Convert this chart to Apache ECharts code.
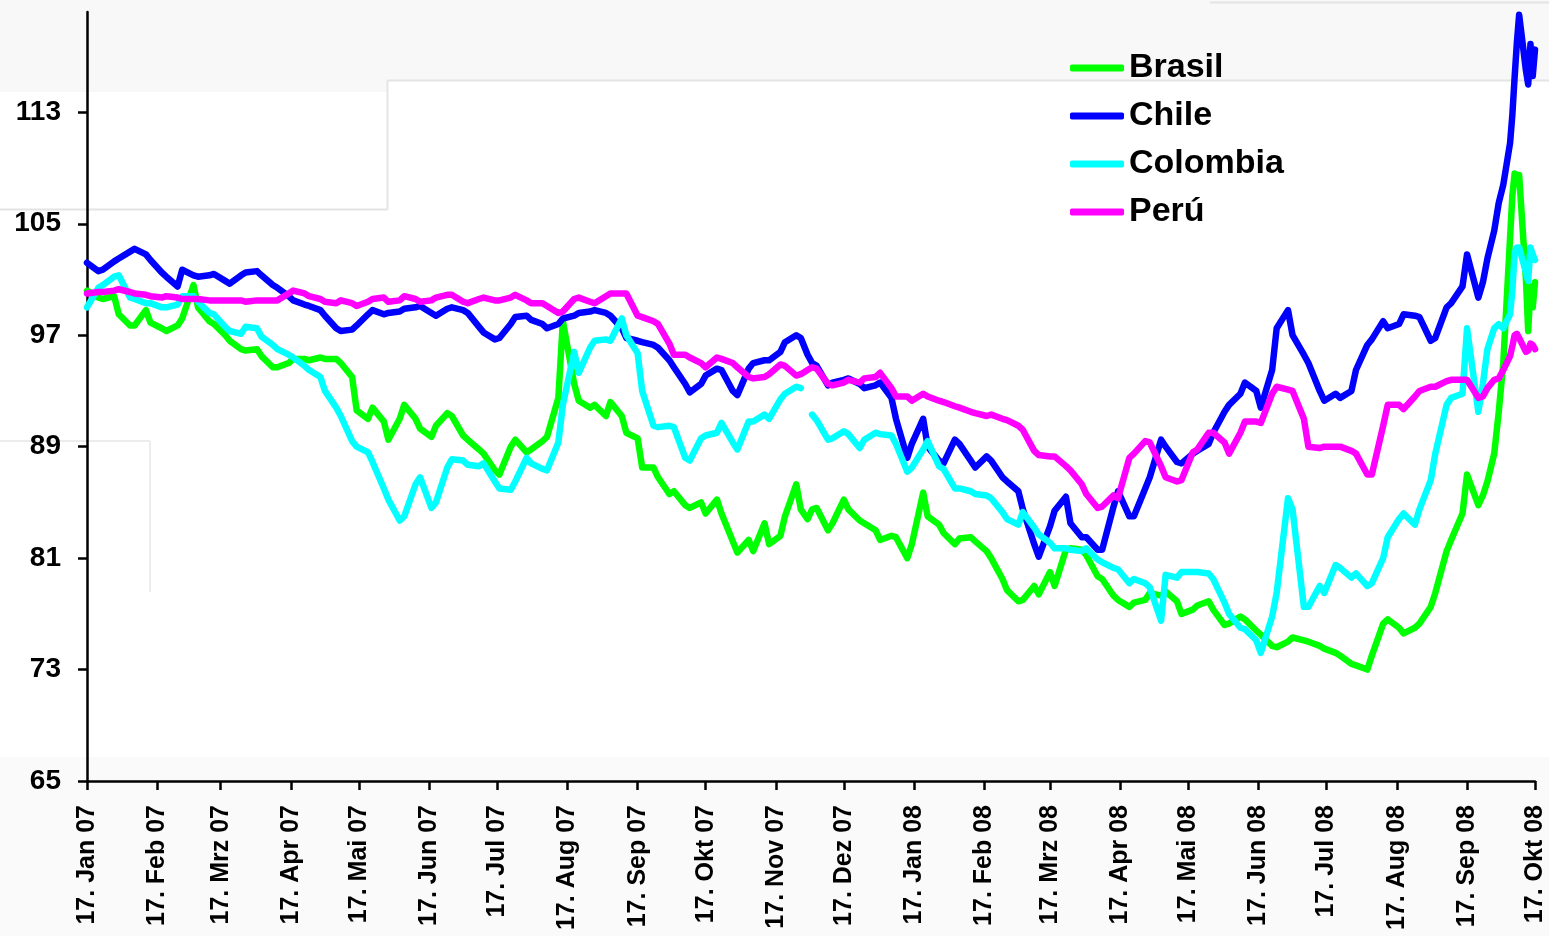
<!DOCTYPE html>
<html>
<head>
<meta charset="utf-8">
<script src="https://cdn.jsdelivr.net/npm/echarts@6/dist/echarts.min.js"></script>
<style>
  html, body { margin: 0; padding: 0; background: #ffffff; }
  #chart { width: 1549px; height: 936px; }
</style>
</head>
<body>
<div id="chart"></div>
<script>
// ---------- DATA ----------
const dates = [
  '2007-01-17','2007-01-22','2007-01-24','2007-01-29','2007-01-31','2007-02-05','2007-02-07','2007-02-12','2007-02-14','2007-02-19',
  '2007-02-21','2007-02-26','2007-02-28','2007-03-05','2007-03-07','2007-03-12','2007-03-14','2007-03-19','2007-03-21','2007-03-26',
  '2007-03-28','2007-04-02','2007-04-04','2007-04-09','2007-04-11','2007-04-16','2007-04-18','2007-04-23','2007-04-25','2007-04-30',
  '2007-05-02','2007-05-07','2007-05-09','2007-05-14','2007-05-16','2007-05-21','2007-05-23','2007-05-28','2007-05-30','2007-06-04',
  '2007-06-06','2007-06-11','2007-06-13','2007-06-18','2007-06-20','2007-06-25','2007-06-27','2007-07-02','2007-07-04','2007-07-09',
  '2007-07-11','2007-07-16','2007-07-18','2007-07-23','2007-07-25','2007-07-30','2007-08-01','2007-08-06','2007-08-08','2007-08-13',
  '2007-08-15','2007-08-20','2007-08-22','2007-08-27','2007-08-29','2007-09-03','2007-09-05','2007-09-10','2007-09-12','2007-09-17',
  '2007-09-19','2007-09-24','2007-09-26','2007-10-01','2007-10-03','2007-10-08','2007-10-10','2007-10-15','2007-10-17','2007-10-22',
  '2007-10-24','2007-10-29','2007-10-31','2007-11-05','2007-11-07','2007-11-12','2007-11-14','2007-11-19','2007-11-21','2007-11-26',
  '2007-11-28','2007-12-01','2007-12-03','2007-12-05','2007-12-10','2007-12-12','2007-12-17','2007-12-19','2007-12-24','2007-12-26','2007-12-31',
  '2008-01-02','2008-01-07','2008-01-09','2008-01-14','2008-01-16','2008-01-21','2008-01-23','2008-01-28','2008-01-30','2008-02-04',
  '2008-02-06','2008-02-11','2008-02-13','2008-02-18','2008-02-20','2008-02-25','2008-02-27','2008-03-03','2008-03-05','2008-03-10',
  '2008-03-12','2008-03-17','2008-03-19','2008-03-24','2008-03-26','2008-03-31','2008-04-02','2008-04-07','2008-04-09','2008-04-14',
  '2008-04-16','2008-04-21','2008-04-23','2008-04-28','2008-04-30','2008-05-05','2008-05-07','2008-05-12','2008-05-14','2008-05-19',
  '2008-05-21','2008-05-26','2008-05-28','2008-06-02','2008-06-04','2008-06-09','2008-06-11','2008-06-16','2008-06-18','2008-06-23',
  '2008-06-25','2008-06-30','2008-07-02','2008-07-07','2008-07-09','2008-07-14','2008-07-16','2008-07-21','2008-07-23','2008-07-28',
  '2008-07-30','2008-08-04','2008-08-06','2008-08-11','2008-08-13','2008-08-18','2008-08-20','2008-08-25','2008-08-27','2008-09-01',
  '2008-09-03','2008-09-08','2008-09-10','2008-09-15','2008-09-17','2008-09-22','2008-09-24',
  '2008-09-26','2008-09-29','2008-10-01','2008-10-03','2008-10-06','2008-10-07','2008-10-08','2008-10-09','2008-10-10',
  '2008-10-13','2008-10-14','2008-10-15','2008-10-16','2008-10-17'
];

const brasil = [
  100.2, 99.7, 99.6, 99.8, 98.5, 97.7, 97.7, 98.8, 97.9, 97.5,
  97.3, 97.7, 98.2, 100.6, 99.0, 98.0, 97.8, 97.0, 96.6, 96.0,
  95.9, 96.0, 95.5, 94.7, 94.7, 95.0, 95.3, 95.3, 95.2, 95.4,
  95.3, 95.3, 95.0, 94.0, 91.6, 91.0, 91.8, 90.8, 89.5, 91.0,
  92.0, 91.0, 90.3, 89.7, 90.5, 91.4, 91.2, 89.8, 89.5, 88.8,
  88.5, 87.3, 87.0, 89.0, 89.5, 88.6, 88.8, 89.4, 89.7, 92.5,
  98.0, 93.5, 92.3, 91.8, 92.0, 91.2, 92.2, 91.2, 90.0, 89.6,
  87.5, 87.5, 86.8, 85.6, 85.8, 84.8, 84.6, 85.0, 84.2, 85.2,
  84.2, 82.2, 81.4, 82.3, 81.5, 83.5, 82.0, 82.6, 84.0, 86.3,
  84.5, 83.8, 84.5, 84.6, 83.0, 83.5, 85.2, 84.5, 83.7, 83.5, 83.0,
  82.3, 82.6, 82.5, 81.0, 82.0, 85.7, 84.0, 83.4, 82.8, 82.0,
  82.4, 82.5, 82.2, 81.5, 81.0, 79.5, 78.7, 77.9, 78.0, 79.0,
  78.4, 80.0, 79.0, 81.6, 81.7, 81.6, 81.2, 79.7, 79.5, 78.3,
  78.0, 77.5, 77.8, 78.0, 78.5, 78.3, 78.6, 77.9, 77.0, 77.3,
  77.6, 77.9, 77.3, 76.2, 76.3, 76.8, 76.6, 75.8, 75.5, 74.7,
  74.6, 75.0, 75.3, 75.1, 75.0, 74.7, 74.5, 74.2, 74.0, 73.4,
  73.3, 73.0, 74.0, 76.3, 76.6, 76.0, 75.6, 76.0, 76.3, 77.5,
  78.5, 81.5, 82.3, 84.2, 87.0, 84.8, 85.5,
  86.5, 88.5, 91.5, 95.0, 104.0, 107.0, 108.6, 108.5, 108.5,
  101.0, 97.3, 100.5, 99.0, 100.8
];

const chile = [
  102.2, 101.6, 101.7, 102.3, 102.5, 103.0, 103.2, 102.8, 102.4, 101.5,
  101.2, 100.5, 101.7, 101.3, 101.2, 101.3, 101.4, 100.9, 100.7, 101.3,
  101.5, 101.6, 101.3, 100.6, 100.4, 99.8, 99.5, 99.2, 99.1, 98.8,
  98.4, 97.5, 97.3, 97.4, 97.7, 98.5, 98.8, 98.5, 98.6, 98.7,
  98.9, 99.0, 99.1, 98.6, 98.4, 98.9, 99.0, 98.8, 98.6, 97.6,
  97.2, 96.7, 96.8, 97.8, 98.3, 98.4, 98.1, 97.8, 97.5, 97.8,
  98.2, 98.4, 98.6, 98.7, 98.8, 98.6, 98.4, 97.5, 96.8, 96.6,
  96.5, 96.3, 96.1, 95.2, 94.7, 93.5, 92.9, 93.5, 94.1, 94.6,
  94.5, 93.0, 92.7, 94.6, 95.0, 95.2, 95.2, 95.8, 96.5, 97.0,
  96.8, 95.6, 95.0, 94.8, 93.4, 93.6, 93.8, 93.9, 93.5, 93.2, 93.4,
  93.6, 92.5, 91.0, 88.2, 89.2, 91.0, 89.0, 88.0, 87.8, 89.5,
  89.2, 88.0, 87.5, 88.3, 88.0, 86.8, 86.5, 85.8, 84.5, 82.0,
  81.1, 83.3, 84.4, 85.4, 83.5, 82.5, 82.5, 81.6, 81.6, 84.7,
  85.8, 84.0, 84.0, 86.0, 86.8, 89.5, 89.0, 87.9, 87.8, 88.5,
  88.7, 89.2, 90.0, 91.5, 92.0, 92.8, 93.6, 93.0, 91.8, 94.5,
  97.5, 98.8, 97.0, 95.6, 95.0, 93.0, 92.3, 92.8, 92.5, 93.0,
  94.5, 96.3, 96.7, 98.0, 97.5, 97.8, 98.5, 98.4, 98.3, 96.6,
  96.8, 99.0, 99.3, 100.5, 102.8, 99.7, 100.8,
  102.5, 104.5, 106.5, 107.8, 110.8, 112.8, 115.5, 118.0, 120.0,
  116.0, 115.0, 117.9, 115.6, 117.5
];

const colombia = [
  99.0, 100.4, 100.6, 101.2, 101.3, 99.7, 99.6, 99.3, 99.3, 99.0,
  99.0, 99.2, 99.8, 99.8, 99.4, 98.6, 98.5, 97.6, 97.3, 97.1,
  97.6, 97.5, 96.9, 96.3, 96.0, 95.6, 95.4, 94.8, 94.5, 94.0,
  93.0, 91.8, 91.2, 89.4, 89.0, 88.6, 87.9, 86.0, 85.2, 83.7,
  84.0, 86.3, 86.8, 84.6, 85.0, 87.5, 88.1, 88.0, 87.7, 87.6,
  87.8, 86.5, 86.0, 85.9, 86.5, 88.2, 87.8, 87.4, 87.3, 89.3,
  92.0, 95.8, 94.3, 96.1, 96.6, 96.7, 96.6, 98.2, 97.0, 95.7,
  93.0, 90.5, 90.4, 90.5, 90.4, 88.2, 88.0, 89.6, 89.8, 90.0,
  90.7, 89.3, 88.8, 90.8, 90.8, 91.3, 91.0, 92.4, 92.8, 93.3,
  93.2, null, 91.3, 90.9, 89.5, 89.6, 90.1, 89.9, 88.9, 89.5, 90.0,
  89.9, 89.8, 89.2, 87.2, 87.5, 88.8, 89.4, 87.6, 87.4, 86.0,
  86.0, 85.8, 85.6, 85.5, 85.3, 84.3, 83.8, 83.4, 84.3, 83.2,
  82.7, 82.1, 81.7, 81.7, 81.6, 81.5, 81.7, 80.9, 80.7, 80.3,
  80.2, 79.2, 79.5, 79.2, 78.9, 76.5, 79.8, 79.6, 80.0, 80.0,
  80.0, 79.9, 79.5, 77.8, 77.0, 76.0, 75.9, 75.1, 74.2, 76.8,
  78.5, 85.3, 84.5, 77.5, 77.5, 79.0, 78.5, 80.5, 80.3, 79.6,
  79.9, 79.0, 79.2, 81.0, 82.5, 83.8, 84.2, 83.4, 84.5, 86.6,
  88.5, 92.0, 92.5, 92.8, 97.5, 91.5, 93.5,
  96.0, 97.5, 97.8, 97.5, 98.5, 100.2, 102.9, 103.3, 103.3,
  101.5, 100.9, 103.3, 102.8, 102.4
];

const peru = [
  100.0, 100.1, 100.1, 100.2, 100.3, 100.1, 100.0, 99.9, 99.8, 99.7,
  99.8, 99.7, 99.6, 99.6, 99.6, 99.5, 99.5, 99.5, 99.5, 99.5,
  99.4, 99.5, 99.5, 99.5, 99.5, 100.0, 100.2, 100.0, 99.8, 99.6,
  99.4, 99.3, 99.5, 99.3, 99.1, 99.4, 99.6, 99.7, 99.4, 99.5,
  99.8, 99.6, 99.4, 99.5, 99.7, 99.9, 99.9, 99.4, 99.3, 99.6,
  99.7, 99.5, 99.5, 99.7, 99.9, 99.5, 99.3, 99.3, 99.1, 98.6,
  98.7, 99.6, 99.7, 99.4, 99.3, 99.8, 100.0, 100.0, 100.0, 98.4,
  98.3, 98.0, 97.8, 96.4, 95.6, 95.6, 95.4, 95.0, 94.7, 95.4,
  95.3, 95.0, 94.7, 94.0, 93.9, 94.0, 94.2, 94.9, 94.8, 94.1,
  94.2, 94.5, 94.7, 94.6, 93.5, 93.4, 93.6, 93.8, 93.6, 93.9, 94.0,
  94.3, 93.2, 92.6, 92.6, 92.3, 92.8, 92.6, 92.3, 92.2, 91.9,
  91.8, 91.5, 91.4, 91.2, 91.3, 91.0, 90.9, 90.5, 90.2, 88.7,
  88.4, 88.3, 88.3, 87.6, 87.3, 86.3, 85.6, 84.6, 84.7, 85.5,
  85.3, 88.2, 88.5, 89.4, 89.3, 87.6, 86.8, 86.5, 86.6, 88.6,
  88.8, 90.0, 90.0, 89.3, 88.5, 90.0, 90.8, 90.8, 90.7, 92.8,
  93.3, 93.1, 93.0, 91.0, 89.0, 88.9, 89.0, 89.0, 89.0, 88.7,
  88.5, 87.0, 87.0, 90.5, 92.0, 92.0, 91.7, 92.6, 93.0, 93.3,
  93.3, 93.7, 93.8, 93.8, 93.8, 92.5, 92.6,
  93.2, 93.8, 93.9, 94.5, 95.5, 96.2, 97.0, 97.1, 96.8,
  95.8, 95.9, 96.4, 96.3, 96.0
];

const seriesNames = ['Brasil', 'Chile', 'Colombia', 'Perú'];
const seriesColors = ['#00ff00', '#0000ff', '#00ffff', '#ff00ff'];

const xTickDates = [
  '2007-01-17','2007-02-17','2007-03-17','2007-04-17','2007-05-17','2007-06-17','2007-07-17','2007-08-17',
  '2007-09-17','2007-10-17','2007-11-17','2007-12-17','2008-01-17','2008-02-17','2008-03-17','2008-04-17',
  '2008-05-17','2008-06-17','2008-07-17','2008-08-17','2008-09-17','2008-10-17'
];
const xTickLabels = [
  '17. Jan 07','17. Feb 07','17. Mrz 07','17. Apr 07','17. Mai 07','17. Jun 07','17. Jul 07','17. Aug 07',
  '17. Sep 07','17. Okt 07','17. Nov 07','17. Dez 07','17. Jan 08','17. Feb 08','17. Mrz 08','17. Apr 08',
  '17. Mai 08','17. Jun 08','17. Jul 08','17. Aug 08','17. Sep 08','17. Okt 08'
];
const yTicks = [65, 73, 81, 89, 97, 105, 113];

// ---------- BUILD ----------
function ts(s) {
  const p = s.split('-').map(Number);
  return Date.UTC(p[0], p[1] - 1, p[2]);
}
const dateTs = dates.map(ts);
const xTickTs = xTickDates.map(ts);
const allValues = [brasil, chile, colombia, peru];

function pairs(vals) {
  return vals.map((v, i) => [dateTs[i], v == null ? null : v]);
}

const FONT = '"Liberation Sans", Arial, sans-serif';

const chart = echarts.init(document.getElementById('chart'), null, { renderer: 'canvas' });

const bgGraphics = [
  { type: 'rect', z: -10, shape: { x: 0, y: 0, width: 1549, height: 80 }, style: { fill: '#f8f8f8' }, silent: true },
  { type: 'rect', z: -10, shape: { x: 0, y: 80, width: 387, height: 12 }, style: { fill: '#f8f8f8' }, silent: true },
  { type: 'rect', z: -10, shape: { x: 0, y: 757, width: 1549, height: 179 }, style: { fill: '#fafafa' }, silent: true },
  { type: 'line', z: -9, shape: { x1: 387, y1: 80.5, x2: 1549, y2: 80.5 }, style: { stroke: '#e4e4e4', lineWidth: 2 }, silent: true },
  { type: 'line', z: -9, shape: { x1: 387.5, y1: 80, x2: 387.5, y2: 210 }, style: { stroke: '#e4e4e4', lineWidth: 2 }, silent: true },
  { type: 'line', z: -9, shape: { x1: 0, y1: 209.5, x2: 387, y2: 209.5 }, style: { stroke: '#e4e4e4', lineWidth: 2 }, silent: true },
  { type: 'line', z: -9, shape: { x1: 1210, y1: 2.5, x2: 1549, y2: 2.5 }, style: { stroke: '#e4e4e4', lineWidth: 2 }, silent: true },
  { type: 'line', z: -9, shape: { x1: 0, y1: 441, x2: 150, y2: 441 }, style: { stroke: '#ececec', lineWidth: 2 }, silent: true },
  { type: 'line', z: -9, shape: { x1: 150, y1: 441, x2: 150, y2: 592 }, style: { stroke: '#ececec', lineWidth: 2 }, silent: true }
];

const option = {
  animation: false,
  backgroundColor: '#ffffff',
  graphic: bgGraphics,
  grid: { left: 87, right: 14, top: 12, bottom: 155, containLabel: false },
  legend: {
    orient: 'vertical',
    left: 1070,
    top: 48,
    padding: 0,
    itemWidth: 54,
    itemHeight: 7,
    itemGap: 8,
    icon: 'roundRect',
    data: seriesNames,
    textStyle: { fontFamily: FONT, fontWeight: 'bold', fontSize: 34, color: '#000', lineHeight: 40 }
  },
  xAxis: {
    type: 'value',
    min: xTickTs[0],
    max: xTickTs[xTickTs.length - 1],
    splitLine: { show: false },
    axisLine: { show: true, onZero: false, lineStyle: { color: '#000', width: 2.5 } },
    axisTick: { show: true, length: 9, customValues: xTickTs, lineStyle: { color: '#000', width: 2.5 } },
    axisLabel: {
      show: true,
      customValues: xTickTs,
      rotate: 90,
      margin: 24,
      fontFamily: FONT,
      fontWeight: 'bold',
      fontSize: 25,
      color: '#000',
      hideOverlap: false,
      showMinLabel: true,
      showMaxLabel: true,
      formatter: function (value) {
        let best = 0, bd = Infinity;
        for (let i = 0; i < xTickTs.length; i++) {
          const d = Math.abs(xTickTs[i] - value);
          if (d < bd) { bd = d; best = i; }
        }
        return xTickLabels[best];
      }
    }
  },
  yAxis: {
    type: 'value',
    min: 65,
    max: 120.2,
    splitLine: { show: false },
    axisLine: { show: true, onZero: false, lineStyle: { color: '#000', width: 2.5 } },
    axisTick: { show: true, length: 9, customValues: yTicks, lineStyle: { color: '#000', width: 2.5 } },
    axisLabel: {
      customValues: yTicks,
      margin: 26,
      fontFamily: FONT,
      fontWeight: 'bold',
      fontSize: 28,
      color: '#000'
    }
  },
  series: seriesNames.map((name, i) => ({
    name: name,
    type: 'line',
    data: pairs(allValues[i]),
    showSymbol: false,
    symbol: 'none',
    connectNulls: false,
    color: seriesColors[i],
    lineStyle: { color: seriesColors[i], width: 6.5, cap: 'round', join: 'round' },
    itemStyle: { color: seriesColors[i] },
    emphasis: { disabled: true }
  }))
};

chart.setOption(option);
</script>
</body>
</html>
